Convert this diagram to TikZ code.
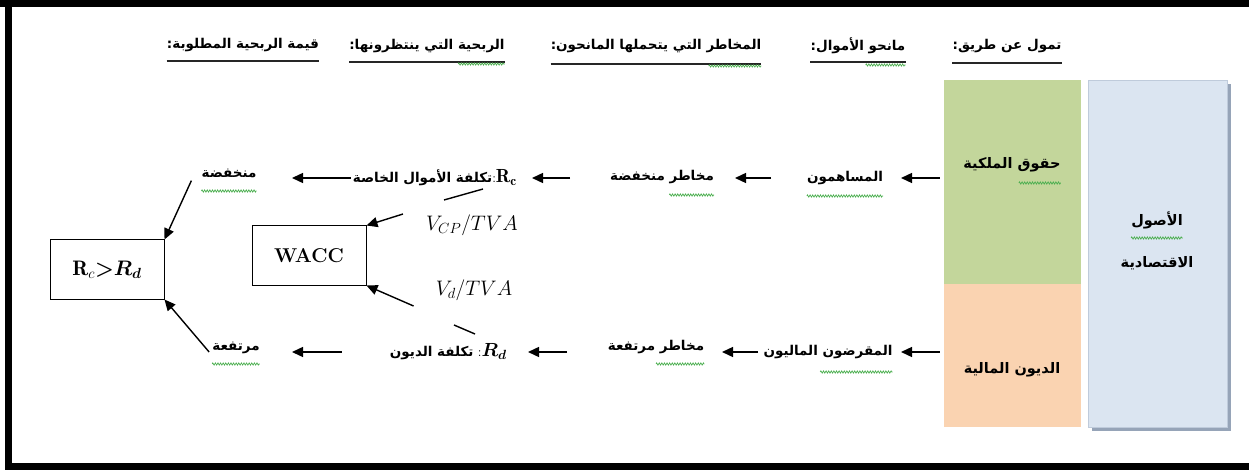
\RequirePackage{fix-cm}
\documentclass[tikz,border=0pt]{standalone}
\usepackage{fontspec}
\usetikzlibrary{arrows.meta,calc,decorations.pathmorphing}
\TeXXeTstate=1
\newfontfamily\arabicfont[Script=Arabic]{DejaVu Sans}
\newcommand\ar[1]{{\arabicfont\bfseries\beginR #1\endR}}

\definecolor{eqgreen}{HTML}{C3D69B}
\definecolor{debtorange}{HTML}{FAD3B1}
\definecolor{assetblue}{HTML}{DBE5F1}
\definecolor{assetedge}{HTML}{BFCBDB}
\definecolor{shadowblue}{HTML}{96A4B8}
\definecolor{spellgreen}{HTML}{4CAF50}

% green spell-check squiggle under the right-hand part of a text node
\newcommand\squig[3]{%
  \path ($(#1.east)!#2!(#1.west)$) coordinate (sq-a);
  \draw[wavy] (sq-a |- 0,#3) -- (#1.east |- 0,#3);}

\begin{document}
\begin{tikzpicture}[x=1pt,y=-1pt,
  txt/.style={inner sep=0pt,font=\fontsize{13.5}{16}\selectfont},
  hd/.style={inner sep=0pt,font=\fontsize{13.5}{16}\selectfont},
  boxlbl/.style={inner sep=0pt,font=\fontsize{14.5}{17}\selectfont},
  resultbox/.style={draw=black,line width=1pt,fill=white,inner sep=0pt,
    minimum width=114pt,minimum height=59pt},
  arr/.style={-{Triangle[length=11pt,width=10pt]},line width=1.4pt},
  link/.style={line width=1.4pt},
  uline/.style={line width=1.5pt,draw=black!85},
  wavy/.style={draw=spellgreen,line width=0.7pt,decorate,
    decoration={zigzag,amplitude=1.1pt,segment length=2.6pt}},
  mathlbl/.style={inner sep=0pt,font=\fontsize{21}{25}\selectfont}]
\useasboundingbox (0,0) rectangle (1249,470);

% outer frame (top, left, bottom)
\fill[black] (0,0) rectangle (1249,7);
\fill[black] (5,0) rectangle (12,470);
\fill[black] (5,463) rectangle (1249,470);

% balance-sheet columns
\fill[shadowblue] (1092,84) rectangle (1231,431);
\node[draw=assetedge,line width=0.6pt,fill=assetblue,minimum width=139pt,
  minimum height=347pt,inner sep=0pt] (assets) at (1157.5,253.5) {};
\node[fill=eqgreen,minimum width=137pt,minimum height=204pt,inner sep=0pt]
  (eq) at (1012.5,182) {};
\node[fill=debtorange,minimum width=137pt,minimum height=143pt,inner sep=0pt]
  (debt) at (1012.5,355.5) {};
\node[boxlbl] (eqt) at (1012,165) {\ar{حقوق الملكية}};
\node[boxlbl] (debtt) at (1012,370) {\ar{الديون المالية}};
\node[boxlbl] (as1) at (1157,220) {\ar{الأصول}};
\node[boxlbl] (as2) at (1157,263) {\ar{الاقتصادية}};

% column headings
\node[hd] (h1) at (1007,46) {\ar{تمول عن طريق:}};
\node[hd] (h2) at (858,46) {\ar{مانحو الأموال:}};
\node[hd] (h3) at (656,46) {\ar{المخاطر التي يتحملها المانحون:}};
\node[hd] (h4) at (427,46) {\ar{الربحية التي ينتظرونها:}};
\node[hd] (h5) at (243,45) {\ar{قيمة الربحية المطلوبة:}};
\foreach \h/\y in {h1/63,h2/62,h3/64,h4/62,h5/61}
  \draw[uline] (\h.west |- 0,\y) -- (\h.east |- 0,\y);

% upper row: equity holders
\node[txt] (sh) at (845,178) {\ar{المساهمون}};
\node[txt] (ms) at (662,177) {\ar{مخاطر منخفضة}};
\node[txt,anchor=east] (rc) at (517,178)
  {\ar{تكلفة الأموال الخاصة}:{\fontsize{19}{21}\selectfont$\mathbf{R}_{\mathbf{c}}$}};
\node[txt] (mk) at (229,173) {\ar{منخفضة}};

% lower row: lenders
\node[txt] (ln) at (828,352) {\ar{المقرضون الماليون}};
\node[txt] (mr) at (656,347) {\ar{مخاطر مرتفعة}};
\node[txt,anchor=east] (rd) at (507,352)
  {\ar{تكلفة الديون} :{\fontsize{19}{21}\selectfont\boldmath$R_d$}};
\node[txt] (mt) at (236,348) {\ar{مرتفعة}};

% weights and results
\node[mathlbl] (vcp) at (472,225) {$V_{CP}/TVA$};
\node[mathlbl] (vd) at (474,290) {$V_d/TVA$};
\node[resultbox] (wacc) at (309,255.5)
  {{\fontsize{20}{24}\selectfont\bfseries WACC}};
\node[resultbox] (cmp) at (107,269.5)
  {{\fontsize{21}{25}\selectfont$\mathbf{R}_{c}$\textbf{\textgreater}{\boldmath$R_d$}}};

% horizontal flow, upper row
\draw[arr,shorten <=4pt,shorten >=56pt] (eq.west |- sh.center) -- (sh.center);
\draw[arr,shorten <=74pt,shorten >=73pt] (sh.center) -- (sh.center -| ms.center);
\draw[arr,shorten <=92pt,shorten >=15pt] (sh.center -| ms.center) -- (sh.center -| rc.east);
\draw[arr,shorten <=2pt,shorten >=63pt] (sh.center -| rc.west) -- (sh.center -| mk.center);

% horizontal flow, lower row
\draw[arr,shorten <=4pt,shorten >=73pt] (debt.west |- ln.center) -- (ln.center);
\draw[arr,shorten <=70pt,shorten >=66pt] (ln.center) -- (ln.center -| mr.center);
\draw[arr,shorten <=89pt,shorten >=21pt] (ln.center -| mr.center) -- (ln.center -| rd.east);
\draw[arr,shorten <=48pt,shorten >=56pt] (ln.center -| rd.west) -- (ln.center -| mt.center);

% into the comparison box
\draw[arr] ([xshift=-10pt,yshift=-3pt]mk.south west) -- (cmp.north east);
\draw[arr] ([xshift=-3pt,yshift=-4pt]mt.west) -- (cmp.south east);

% into WACC
\draw[arr] ([xshift=-23pt,yshift=11pt]vcp.west) -- (wacc.north east);
\draw[arr] ([xshift=-22pt,yshift=-16pt]vd.west) -- (wacc.south east);

% short links from the costs toward the weights
\coordinate (rcl1) at (483,189);
\coordinate (rcl2) at (444,200);
\coordinate (rdl1) at (454,325);
\coordinate (rdl2) at (475,334);
\draw[link] (rcl1) -- (rcl2);
\draw[link] (rdl1) -- (rdl2);

% spell-check squiggles
\squig{h2}{0.42}{65}
\squig{h3}{0.25}{66}
\squig{h4}{0.30}{64}
\squig{sh}{1}{196}
\squig{ms}{0.43}{195}
\squig{mk}{1}{191}
\squig{ln}{0.56}{372}
\squig{mr}{0.50}{364}
\squig{mt}{1}{364}
\squig{eqt}{0.43}{183}
\squig{as1}{1}{238}
\end{tikzpicture}
\end{document}
